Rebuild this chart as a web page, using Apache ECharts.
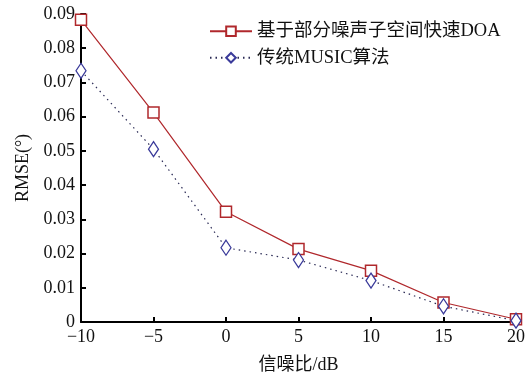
<!DOCTYPE html>
<html><head><meta charset="utf-8">
<script src="https://cdn.jsdelivr.net/npm/echarts@6/dist/echarts.min.js"></script>
<style>html,body{margin:0;padding:0;background:#fff}#c{width:529px;height:372px}</style>
</head><body><div id="c"></div>
<script>
const snr = [-10, -5, 0, 5, 10, 15, 20];
const fastDOA = [0.0883, 0.0612, 0.0322, 0.0213, 0.0150, 0.0057, 0.0008];
const music = [0.0734, 0.0505, 0.0217, 0.0181, 0.0121, 0.0046, 0.0004];
const seriesNames = ['基于部分噪声子空间快速DOA', '传统MUSIC算法'];
const font = '"Liberation Serif", "Noto Sans CJK SC", serif';
const chart = echarts.init(document.getElementById('c'));
chart.setOption({
  animation: false,
  backgroundColor: '#fff',
  textStyle: { fontFamily: font },
  grid: { left: 81, right: 13, top: 14, bottom: 50, outerBoundsMode: 'none', containLabel: false },
  legend: {
    left: 204, top: 17, orient: 'vertical', itemGap: 8, itemWidth: 42, itemHeight: 12,
    textStyle: { fontFamily: font, fontSize: 18.5, color: '#111' },
    data: seriesNames
  },
  xAxis: {
    type: 'value', min: -10, max: 20, interval: 5,
    name: '信噪比/dB', nameLocation: 'middle', nameGap: 34,
    nameTextStyle: { fontFamily: font, fontSize: 18, color: '#111' },
    axisLine: { lineStyle: { color: '#000', width: 2 } },
    axisTick: { inside: true, length: 5, lineStyle: { color: '#000', width: 2 } },
    axisLabel: { fontFamily: font, fontSize: 18, color: '#111', margin: 6,
      formatter: v => v < 0 ? '\u2212' + Math.abs(v) : String(v) },
    splitLine: { show: false }
  },
  yAxis: {
    type: 'value', min: 0, max: 0.09, interval: 0.01,
    name: 'RMSE(°)', nameLocation: 'middle', nameGap: 48, nameRotate: 90,
    nameTextStyle: { fontFamily: font, fontSize: 18, color: '#111' },
    axisLine: { show: true, onZero: false, lineStyle: { color: '#000', width: 2 } },
    axisTick: { show: true, inside: true, length: 5, lineStyle: { color: '#000', width: 2 } },
    axisLabel: { fontFamily: font, fontSize: 18, color: '#111', margin: 6,
      formatter: v => v === 0 ? '0' : v.toFixed(2) },
    splitLine: { show: false }
  },
  series: [
    {
      name: seriesNames[0], type: 'line',
      data: snr.map((x, i) => [x, fastDOA[i]]),
      symbol: 'rect', symbolSize: 11, showAllSymbol: true,
      lineStyle: { color: '#b0282c', width: 1.2 },
      itemStyle: { color: '#fff', borderColor: '#b0282c', borderWidth: 1.5 }
    },
    {
      name: seriesNames[1], type: 'line',
      data: snr.map((x, i) => [x, music[i]]),
      symbol: 'diamond', symbolSize: [10, 15], showAllSymbol: true,
      lineStyle: { color: '#2a2a55', width: 1.2, type: [1.5, 4] },
      itemStyle: { color: '#fff', borderColor: '#3a3a9a', borderWidth: 1.3 }
    }
  ]
});
</script></body></html>
